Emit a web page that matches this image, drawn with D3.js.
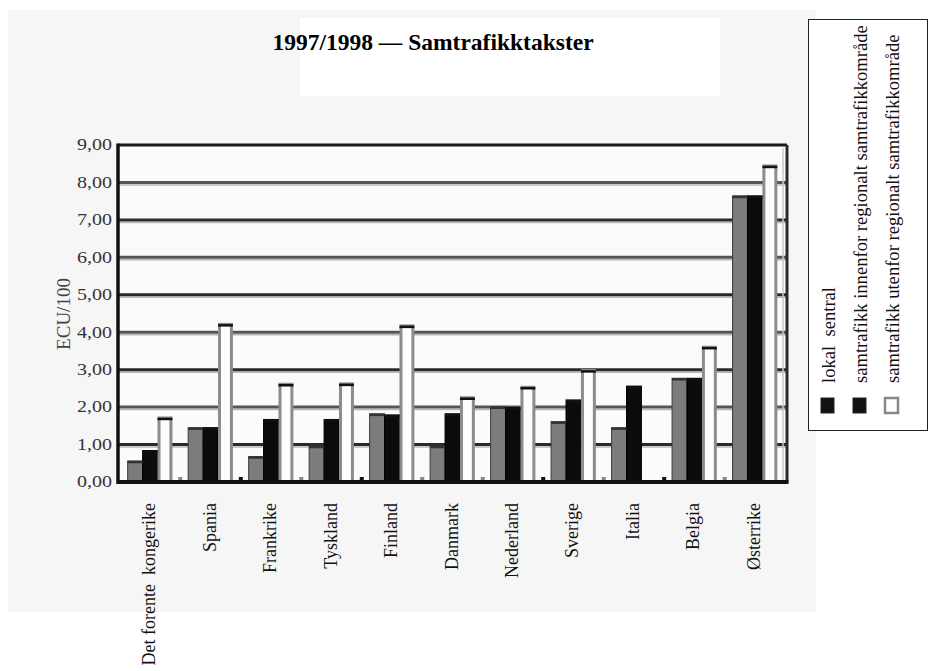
<!DOCTYPE html>
<html>
<head>
<meta charset="utf-8">
<script src="https://cdn.jsdelivr.net/npm/d3@7"></script>
<style>
  html, body { margin: 0; padding: 0; background: #ffffff; }
  svg { display: block; }
  svg text { font-family: "Liberation Serif", "Times New Roman", Times, serif; white-space: pre; }
</style>
</head>
<body>
<svg id="chart" width="938" height="671" font-family="Liberation Serif, Times New Roman, serif"></svg>
<script>
// ---- data ----
const title = "1997/1998 — Samtrafikktakster";
const yTitle = "ECU/100";
const categories = ["Det forente  kongerike", "Spania", "Frankrike", "Tyskland", "Finland",
  "Danmark", "Nederland", "Sverige", "Italia", "Belgia", "Østerrike"];
const seriesNames = ["lokal  sentral",
  "samtrafikk innenfor regionalt samtrafikkområde",
  "samtrafikk utenfor regionalt samtrafikkområde"];
const lokalSentral = [0.56, 1.45, 0.68, 0.96, 1.82, 0.96, 2.01, 1.61, 1.45, 2.77, 7.64];
const innenfor     = [0.84, 1.45, 1.67, 1.67, 1.79, 1.82, 1.99, 2.19, 2.56, 2.77, 7.64];
const utenfor      = [1.71, 4.21, 2.61, 2.62, 4.17, 2.25, 2.53, 2.98, null, 3.60, 8.44];
const yTickValues = [0, 1, 2, 3, 4, 5, 6, 7, 8, 9];
const yTickLabels = ["0,00", "1,00", "2,00", "3,00", "4,00", "5,00", "6,00", "7,00", "8,00", "9,00"];

const seriesValues = [lokalSentral, innenfor, utenfor];
const table = categories.map((c, i) => ({
  cat: c,
  vals: seriesNames.map((s, j) => ({ key: s, idx: j, v: seriesValues[j][i] }))
}));

// ---- layout ----
const FONT = "Liberation Serif, Times New Roman, serif";
const svg = d3.select("#chart");
const L = 118, R = 787, T = 145, B = 482;

// faint scanned background
svg.append("rect").attr("x", 8).attr("y", 10).attr("width", 808).attr("height", 602).attr("fill", "#f6f6f6");
svg.append("rect").attr("x", 300).attr("y", 18).attr("width", 420).attr("height", 78).attr("fill", "#ffffff");
svg.append("rect").attr("x", L).attr("y", T).attr("width", R - L).attr("height", B - T).attr("fill", "#fbfbfb");

const x = d3.scaleBand().domain(categories).range([L, R]).paddingInner(0.26).paddingOuter(0.16);
const xs = d3.scaleBand().domain(d3.range(seriesNames.length)).range([0, x.bandwidth()]).padding(0);
const y = d3.scaleLinear().domain([0, 9]).range([B, T]);

// gridlines
const grid = svg.append("g");
grid.selectAll("line.sh").data(yTickValues.filter(v => v > 0 && v < 9)).join("line")
  .attr("x1", L).attr("x2", R).attr("y1", d => y(d) + 2.5).attr("y2", d => y(d) + 2.5)
  .attr("stroke", "#b8b8b8").attr("stroke-width", 1.5);
grid.selectAll("line.g").data(yTickValues.filter(v => v > 0 && v < 9)).join("line")
  .attr("x1", L).attr("x2", R).attr("y1", d => y(d)).attr("y2", d => y(d))
  .attr("stroke", (d, i) => (i % 2 === 1 ? "#555" : "#2a2a2a")).attr("stroke-width", 3);

// bars
const fills = ["#7c7c7c", "#0b0b0b", "#fdfdfd"];
const groups = svg.append("g").selectAll("g").data(table).join("g")
  .attr("transform", d => `translate(${x(d.cat)},0)`);
groups.selectAll("rect.bar").data(d => d.vals.filter(e => e.v != null)).join("rect")
  .attr("class", "bar")
  .attr("x", d => xs(d.idx) + (d.idx === 2 ? 1.5 : 0))
  .attr("width", d => xs.bandwidth() - (d.idx === 2 ? 3 : 0))
  .attr("y", d => y(d.v))
  .attr("height", d => y(0) - y(d.v))
  .attr("fill", d => fills[d.idx])
  .attr("stroke", d => d.idx === 2 ? "#8c8c8c" : (d.idx === 0 ? "#3a3a3a" : "#000"))
  .attr("stroke-width", d => d.idx === 2 ? 3 : 1);
groups.selectAll("line.top").data(d => d.vals.filter(e => e.v != null)).join("line")
  .attr("x1", d => xs(d.idx)).attr("x2", d => xs(d.idx) + xs.bandwidth())
  .attr("y1", d => y(d.v) + 1).attr("y2", d => y(d.v) + 1)
  .attr("stroke", d => d.idx === 0 ? "#333" : "#111").attr("stroke-width", 2.5);

// small marks between groups on the base line
const gapPos = categories.slice(0, -1).map((c, i) => ({ i, c }));
svg.append("g").selectAll("rect").data(gapPos).join("rect")
  .attr("x", d => x(d.c) + x.bandwidth() + x.step() * x.paddingInner() / 2 - 2)
  .attr("y", B - 5).attr("width", 4).attr("height", 5)
  .attr("fill", d => ([1, 3, 6, 8].includes(d.i) ? "#111" : "#888"));

// frame
const frame = svg.append("g");
frame.append("line").attr("x1", L).attr("x2", R).attr("y1", T).attr("y2", T).attr("stroke", "#1a1a1a").attr("stroke-width", 3);
frame.append("line").attr("x1", R).attr("x2", R).attr("y1", T).attr("y2", B).attr("stroke", "#2a2a2a").attr("stroke-width", 3);
frame.append("line").attr("x1", R - 4).attr("x2", R - 4).attr("y1", T + 3).attr("y2", B).attr("stroke", "#c8c8c8").attr("stroke-width", 1.5);
frame.append("line").attr("x1", L).attr("x2", L).attr("y1", T - 1.5).attr("y2", B + 2).attr("stroke", "#111").attr("stroke-width", 3.5);
frame.append("line").attr("x1", L).attr("x2", R + 1.5).attr("y1", B).attr("y2", B).attr("stroke", "#111").attr("stroke-width", 4);

// y axis labels
const yAxis = svg.append("g");
yAxis.selectAll("text").data(yTickValues).join("text")
  .attr("transform", d => `translate(112,${y(d)}) scale(1.25,1)`)
  .attr("text-anchor", "end").attr("dy", "0.33em")
  .attr("font-family", FONT).attr("font-size", 16).attr("fill", "#333")
  .text((d, i) => yTickLabels[i]);

svg.append("text")
  .attr("transform", `translate(70,314) rotate(-90)`)
  .attr("text-anchor", "middle").attr("font-family", FONT).attr("font-size", 19).attr("fill", "#444")
  .text(yTitle);

// x labels
svg.append("g").selectAll("text").data(categories).join("text")
  .attr("transform", d => `translate(${x(d) + x.bandwidth() / 2 + 5},503) rotate(-90)`)
  .attr("text-anchor", "end").attr("font-family", FONT).attr("font-size", 18).attr("fill", "#111")
  .text(d => d);

// title
svg.append("text").attr("x", 433).attr("y", 50).attr("text-anchor", "middle")
  .attr("font-family", FONT).attr("font-size", 23.5).attr("font-weight", "bold").attr("fill", "#000")
  .text(title);

// legend
const lg = svg.append("g");
lg.append("rect").attr("x", 808.5).attr("y", 19.5).attr("width", 119).attr("height", 411)
  .attr("fill", "#fff").attr("stroke", "#222").attr("stroke-width", 1);
const legendX = d3.scalePoint().domain(d3.range(seriesNames.length)).range([835, 899]);
lg.selectAll("text").data(seriesNames).join("text")
  .attr("transform", (d, i) => `translate(${legendX(i)},383) rotate(-90)`)
  .attr("text-anchor", "start").attr("font-family", FONT).attr("font-size", 18.6).attr("fill", "#111")
  .text(d => d);
const swFill = ["#111", "#111", "#fdfdfd"];
lg.selectAll("rect.sw").data(seriesNames).join("rect").attr("class", "sw")
  .attr("x", (d, i) => legendX(i) - 14).attr("y", 398).attr("width", 13).attr("height", 15)
  .attr("fill", (d, i) => swFill[i])
  .attr("stroke", (d, i) => (i === 2 ? "#888" : "#222")).attr("stroke-width", (d, i) => (i === 2 ? 2.5 : 1));
</script>
</body>
</html>
